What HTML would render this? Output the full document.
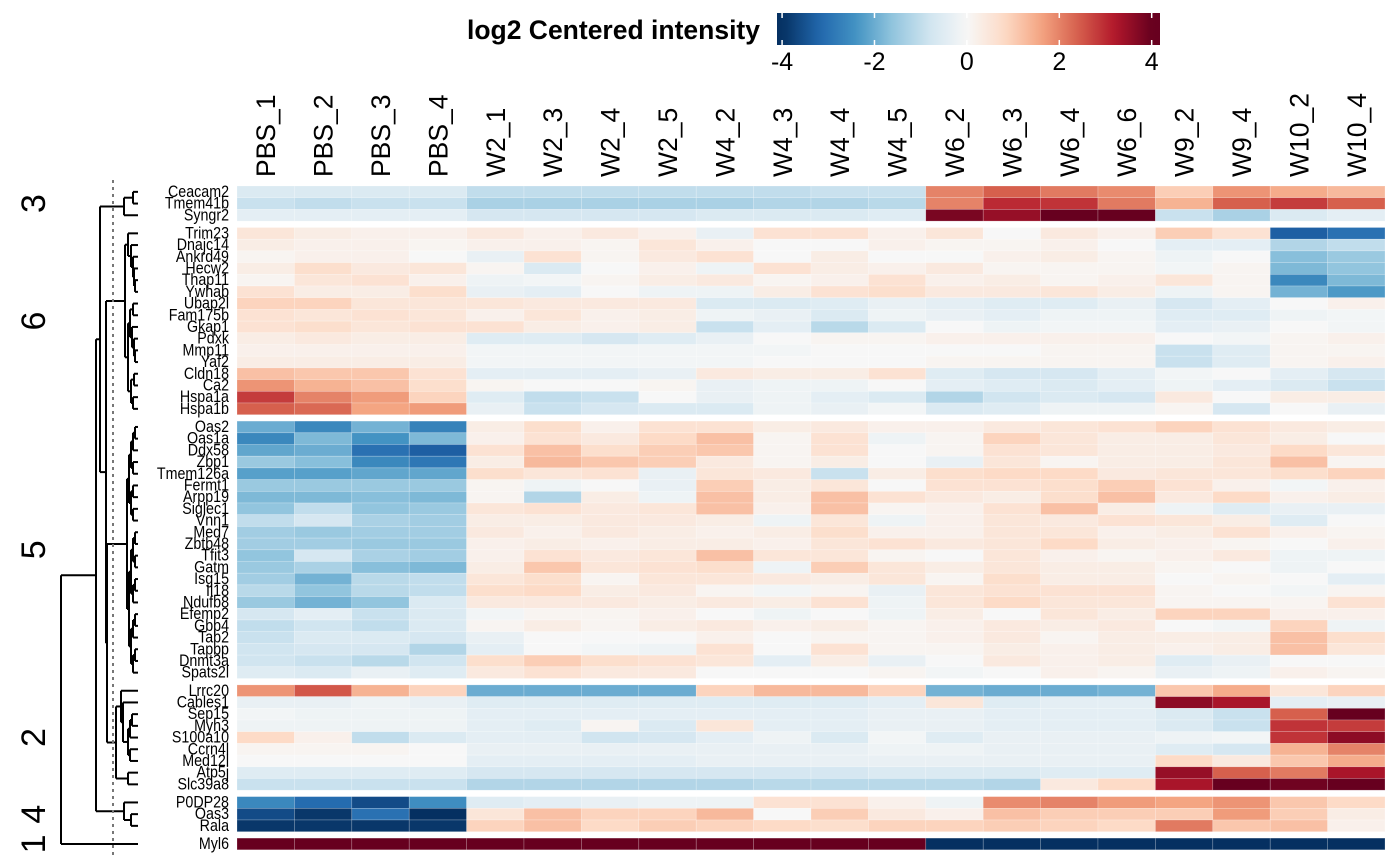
<!DOCTYPE html>
<html><head><meta charset="utf-8"><style>
html,body{margin:0;padding:0;background:#fff;}
svg{display:block;font-family:"Liberation Sans",sans-serif;}
</style></head><body>
<svg id="chart" width="1400" height="865" viewBox="0 0 1400 865">
<defs><linearGradient id="lg" x1="777" x2="1160" y1="0" y2="0" gradientUnits="userSpaceOnUse"></linearGradient></defs>
<g id="legend">
<text x="760" y="39" text-anchor="end" font-size="26.5" font-weight="bold">log2 Centered intensity</text>
<rect x="777" y="13" width="383" height="32" fill="url(#lg)"/>
</g>
<g id="dendro"></g>
<line x1="113" y1="180" x2="113" y2="855" stroke="#777" stroke-width="2" stroke-dasharray="3,4"/>
<g id="cells"></g>
<g id="rowlabels"></g>
<g id="collabels"></g>
<g id="clusterlabels"></g>
</svg>
<script>
const samples=["PBS_1","PBS_2","PBS_3","PBS_4","W2_1","W2_3","W2_4","W2_5","W4_2","W4_3","W4_4","W4_5","W6_2","W6_3","W6_4","W6_6","W9_2","W9_4","W10_2","W10_4"];
const genes=["Ceacam2","Tmem41b","Syngr2","Trim23","Dnajc14","Ankrd49","Hecw2","Thap11","Ywhab","Ubap2l","Fam175b","Gkap1","Pdxk","Mmp11","Yaf2","Cldn18","Ca2","Hspa1a","Hspa1b","Oas2","Oas1a","Ddx58","Zbp1","Tmem126a","Fermt1","Arpp19","Siglec1","Vnn1","Med7","Zbtb48","Tfit3","Gatm","Isg15","Il18","Ndufb8","Efemp2","Gbp4","Tab2","Tapbp","Dnmt3a","Spats2l","Lrrc20","Cables1","Sep15","Myh3","S100a10","Ccrn4l","Med12l","Atp5j","Slc39a8","P0DP28","Oas3","Rala","Myl6"];
const groupSizes=[3,16,22,9,3,1];
const clusterNames=["3","6","5","2","4","1"];
const legendTicks=[-4,-2,0,2,4];
const values=[
[-.6,-.6,-.6,-.6,-1,-1,-1,-1,-1,-1,-.9,-.9,2,2.4,2.1,1.9,1,1.8,1.5,1.3],
[-.9,-1,-.9,-.9,-1.3,-1.3,-1.3,-1.3,-1.3,-1.2,-1.2,-1.1,2,3,2.9,2.1,1.4,2.4,2.8,2.4],
[-.4,-.4,-.4,-.4,-.7,-.7,-.7,-.7,-.6,-.6,-.6,-.5,3.8,3.5,4.2,4,-.9,-1.3,-.6,-.4],
[.5,.3,.2,.2,.4,.2,.4,.2,-.3,.6,.6,.2,.5,0,.4,.2,1,.6,-3.3,-3],
[.3,.2,.2,.1,.2,.2,.1,.5,.2,0,0,.2,.1,.1,.2,0,-.4,-.4,-1.2,-1],
[.1,.2,.2,0,-.3,.6,.1,.4,.6,0,.3,0,0,.2,.3,.1,-.2,0,-1.7,-1.5],
[.3,.7,.4,.5,.1,-.6,0,.2,-.2,.6,.3,.2,.4,.1,.1,.1,-.1,.1,-1.8,-1.6],
[.1,.5,.6,.2,-.2,-.1,.1,.3,.4,.1,.2,.6,.2,.3,.1,.2,.5,.1,-2.6,-1.8],
[.6,.3,.3,.7,-.3,-.4,0,-.2,-.2,.3,.6,.7,.4,.4,.5,.3,-.2,.1,-1.9,-2.3],
[.9,.9,.5,.5,.5,.4,.4,.4,-.6,-.6,-.5,-.3,-.4,-.5,-.5,-.3,-.7,-.4,0,.2],
[.6,.5,.6,.5,.2,.5,.2,.3,-.2,-.3,-.6,-.2,-.3,-.4,-.2,-.2,-.5,-.5,-.2,-.1],
[.6,.7,.5,.6,.6,.3,.2,.3,-.9,-.4,-1.1,-.6,0,-.2,-.1,-.1,-.4,-.3,0,-.1],
[.3,.4,.3,.3,-.5,-.5,-.7,-.5,-.3,0,.1,.1,.2,.2,.2,.2,0,-.1,.1,.2],
[.2,.2,.2,.2,-.1,-.1,-.1,-.1,-.1,-.1,0,0,0,0,.1,.1,-.9,-.5,.1,.1],
[.3,.3,.3,.3,-.1,-.1,-.1,-.1,-.1,0,0,0,.1,.1,.1,.1,-.9,-.5,.1,.2],
[1.2,1.1,1.1,.6,-.4,-.4,-.4,-.3,.4,.3,.3,.6,-.5,-.7,-.7,-.4,-.1,0,-.4,-.7],
[1.8,1.4,1.2,.7,.1,0,0,.1,-.3,-.2,-.2,0,-.4,-.5,-.6,-.4,-.2,-.4,-.6,-.9],
[2.8,2,1.7,.9,-.5,-1,-.9,0,-.3,-.2,-.4,-.6,-1.2,-.8,-.6,-.7,.4,0,.3,.3],
[2.4,2.3,1.6,1.7,-.3,-.9,-.7,-.6,-.6,-.2,-.3,-.1,-.6,-.5,-.2,-.2,.1,-.7,0,-.3],
[-2,-2.6,-1.9,-2.7,.3,.7,.2,.6,.6,.3,.4,.2,.2,.4,.5,.6,.9,.6,.4,.3],
[-2.6,-1.8,-2.4,-1.8,.2,.6,.4,.8,1.2,.1,.6,-.2,.1,.9,.5,.3,.3,.5,.3,0],
[-2.1,-2,-3,-3.3,.6,1.2,.7,1,1.1,.1,.6,0,.1,.6,.5,.3,.3,.4,.8,.5],
[-1.5,-1.7,-2.6,-2.9,.3,1.3,1.1,1,.4,.1,.3,0,-.3,.5,.1,.3,.3,.5,1.2,.1],
[-2.2,-2.2,-2.1,-2.1,.7,.5,.6,-.3,.5,.4,-.9,.3,.7,.8,.8,.4,.5,.5,.7,.9],
[-1.5,-1.5,-1.5,-1.5,.1,-.2,0,-.3,1,.3,.5,0,.6,.6,.7,1,.6,.2,-.1,.2],
[-1.8,-1.8,-1.7,-1.8,.1,-1.2,.3,-.2,1.2,.3,1.2,.6,.4,.3,.7,1.2,.4,.8,.2,.3],
[-1.6,-1,-1.6,-1.5,.5,.6,.4,.5,1.2,.2,1.2,.1,.2,.6,1.2,.3,-.2,-.5,-.3,-.3],
[-1,-.7,-1.3,-1.4,.3,.3,.4,.4,.3,-.2,.5,-.2,.2,.5,.4,.6,.5,.3,-.5,0],
[-1.4,-1.5,-1.4,-1.4,.4,.2,.4,.3,.2,.3,.7,.2,.2,.5,.5,.2,.3,.6,.2,.1],
[-1.4,-1.4,-1.5,-1.5,.2,.3,.2,.3,.3,.2,.5,.6,.4,.5,.8,.3,.2,.1,0,.2],
[-1.6,-.7,-1.3,-1.4,.2,.6,.4,.5,1.2,.5,.5,.1,0,.5,.2,.1,.2,.4,-.2,-.2],
[-1.5,-1.3,-1.7,-1.8,.3,1.1,.5,.6,.7,-.2,1,.5,.3,.5,.3,.3,.1,0,-.2,0],
[-1.4,-1.9,-1.1,-1,.5,.7,.1,.5,.5,.4,.3,.5,.1,.7,.3,.3,0,.1,0,-.4],
[-1.1,-1.6,-1.1,-1,.7,.8,.3,.4,.1,-.1,.1,-.3,.5,.6,.6,.6,.1,0,-.1,.1],
[-1.5,-1.9,-1.6,-.6,.4,.4,.4,.3,.4,.3,.6,-.2,.5,.8,.5,.5,.1,.1,.1,.6],
[-.7,-.4,-.9,-.6,-.1,.1,.1,.2,0,-.2,0,-.2,.3,0,.5,.3,.9,.9,.2,.2],
[-1,-.8,-1,-.6,.1,.3,.1,.3,.4,.2,.3,.1,.2,.4,.3,.4,0,-.1,.9,-.2],
[-.9,-.6,-.6,-.7,-.3,0,0,0,.2,0,.1,.1,.2,.4,.1,.3,.3,.3,1.2,.7],
[-.8,-.7,-.7,-1.2,-.4,0,-.1,-.2,.6,0,.6,.1,.1,.3,.2,.3,.2,.3,1.2,.5],
[-.8,-.9,-1.1,-.8,.7,1,.7,.6,.5,-.4,.3,-.3,0,.4,.2,.3,-.5,-.3,0,0],
[-.5,-.6,-.3,-.5,.4,.6,.4,.4,0,0,0,.1,-.1,0,.2,.1,-.3,-.2,.2,.1],
[1.8,2.5,1.4,.9,-2,-2,-2,-2,.9,1.3,1.3,.9,-1.9,-2,-2,-1.9,1.1,1.5,.5,.9],
[-.3,-.3,-.2,-.3,-.5,-.5,-.5,-.5,-.5,-.5,-.5,-.4,.5,-.5,-.4,-.4,3.6,3.3,-.4,-.3],
[-.1,-.2,-.2,-.2,-.4,-.4,-.4,-.4,-.4,-.4,-.4,-.3,-.3,-.4,-.4,-.4,-.6,-.9,2.4,4.2],
[-.2,-.2,-.2,-.2,-.4,-.5,.1,-.6,.5,-.4,-.4,-.3,-.3,-.4,-.4,-.4,-.6,-.9,2.9,2.8],
[.8,.2,-1,-.6,-.4,-.4,-.8,-.7,-.4,-.2,-.6,-.1,-.5,-.3,-.3,-.3,-.2,-.1,2.9,3.6],
[.1,.1,.1,0,-.3,-.3,-.3,-.3,-.3,-.3,-.3,-.2,-.2,-.3,-.3,-.3,-.5,-.7,1.4,2],
[0,0,0,0,-.4,-.4,-.4,-.4,-.3,-.3,-.3,-.3,-.3,-.3,-.3,-.3,.8,.4,1.1,1.5],
[-.5,-.5,-.5,-.5,-.7,-.7,-.7,-.7,-.7,-.7,-.7,-.6,-.6,-.6,-.5,-.5,3.5,2.4,2.1,3.3],
[-.9,-.9,-.9,-.9,-1.2,-1.2,-1.2,-1.2,-1.2,-1.1,-1.1,-1.1,-1.1,-1.2,.4,.8,3.3,4.3,3.9,4.2],
[-2.6,-3.1,-3.6,-2.5,-.5,-.4,-.3,-.2,-.2,.6,.6,.2,-.2,1.9,2,1.7,1.6,1.8,1.1,.8],
[-3.6,-3.9,-3,-4,.5,1.2,.9,.9,1.3,0,1,.4,.2,1.2,1,1,1,1.7,1,.3],
[-3.9,-3.9,-3.9,-3.9,.9,1.2,.8,1,.9,.8,.7,.9,.9,1,.9,.8,2.1,1.1,1.2,.2],
[4.3,4.3,4.3,4.3,4.3,4.3,4.3,4.3,4.3,4.3,4.3,4,-4.3,-4.3,-4.3,-4.3,-4.3,-4.3,-4.3,-4.3]
];
const NS="http://www.w3.org/2000/svg";
const PAL=["#053061","#2166ac","#4393c3","#92c5de","#d1e5f0","#f7f7f7","#fddbc7","#f4a582","#d6604d","#b2182b","#67001f"];
function hex(h){return [1,3,5].map(i=>parseInt(h.substr(i,2),16));}
function color(v){
  let t=(Math.max(-4,Math.min(4,v))+4)/8*(PAL.length-1);
  let i=Math.min(PAL.length-2,Math.floor(t)),f=t-i;
  let a=hex(PAL[i]),b=hex(PAL[i+1]);
  return "rgb("+a.map((x,k)=>Math.round(x+(b[k]-x)*f)).join(",")+")";
}
const X0=237,X1=1385,Y0=186,RH=11.7,GAP=6.4;
const CW=(X1-X0)/samples.length;
function xPos(j){return X0+j*CW;}
const rowY=[];const groupRange=[];
let y=Y0;
groupSizes.forEach(n=>{let s=y;for(let k=0;k<n;k++){rowY.push(y);y+=RH;}groupRange.push([s,y]);y+=GAP;});
function yCenter(i){return rowY[i]+RH/2;}
function mk(tag,attrs,parent){const e=document.createElementNS(NS,tag);for(const k in attrs)e.setAttribute(k,attrs[k]);parent.appendChild(e);return e;}
const lg=document.getElementById('lg');
const vL=-4.11,vR=4.18;
for(let k=0;k<=40;k++){const v=vL+(vR-vL)*k/40;mk('stop',{offset:(k/40),'stop-color':color(v)},lg);}
const legend=document.getElementById('legend');
function legX(v){return 777+(v-vL)/(vR-vL)*383;}
legendTicks.forEach(t=>{
  const x=legX(t);
  const a=mk('line',{x1:x,x2:x,y1:13,y2:18,stroke:'#fff','stroke-width':1.5},legend);
  
  
  const b=mk('line',{x1:x,x2:x,y1:40,y2:45,stroke:'#fff','stroke-width':1.5},legend);
  
  
  const tx=mk('text',{x:x,y:70,'text-anchor':'middle','font-size':25},legend);
  tx.textContent=(t<0?'-':'')+Math.abs(t);
  
  
});
const cells=document.getElementById('cells');
values.forEach((row,i)=>row.forEach((v,j)=>{
  const r=mk('rect',{x:xPos(j),y:rowY[i],width:CW,height:RH,fill:color(v),stroke:'rgba(255,255,255,0.35)','stroke-width':0.6},cells);
  
  
}));
const rl=document.getElementById('rowlabels');
genes.forEach((g,i)=>{
  const by=yCenter(i)+5;
  const t=mk('text',{x:0,y:0,'text-anchor':'end','font-size':15.5,transform:'translate(229,'+by+') scale(0.92,1.05)'},rl);
  t.textContent=g;
  
  
});
const cl=document.getElementById('collabels');
samples.forEach((s,j)=>{
  const cx=xPos(j)+CW/2+9.5;
  const t=mk('text',{x:0,y:0,'font-size':26.5,transform:'translate('+cx+',177) rotate(-90)'},cl);
  t.textContent=s;
  
  
});
const kl=document.getElementById('clusterlabels');
clusterNames.forEach((c,k)=>{
  const yc=(groupRange[k][0]+groupRange[k][1])/2;
  const t=mk('text',{x:0,y:0,'font-size':34,'text-anchor':'middle',transform:'translate(45,'+yc+') rotate(-90)'},kl);
  t.textContent=c;
  
  
});
function bal(a,b,x){if(a===b)return a;const m=Math.floor((a+b)/2);return {x:x,c:[bal(a,m,x+2),bal(m+1,b,x+2)]};}
const c3={x:124,c:[{x:133,c:[0,1]},2]};
const c6={x:125,c:[{x:128,c:[3,{x:131,c:[4,{x:133,c:[5,{x:134,c:[6,{x:135,c:[7,8]}]}]}]}]},{x:128,c:[{x:130,c:[{x:133,c:[9,10]},{x:132,c:[11,{x:134,c:[12,{x:135,c:[13,14]}]}]}]},{x:131,c:[{x:134,c:[15,16]},{x:133,c:[17,18]}]}]}]};
const c5={x:127,c:[bal(19,27,129),bal(28,40,129)]};
const c2={x:116,c:[{x:121,c:[41,{x:123,c:[42,bal(43,47,128)]}]},{x:128,c:[48,49]}]};
const c4={x:124,c:[50,{x:131,c:[51,52]}]};
const tree={x:61,c:[{x:96,c:[{x:100,c:[c3,{x:106,c:[c6,{x:107,c:[c5,c2]}]}]},c4]},53]};
const dg=document.getElementById('dendro');
function draw(n){
  if(typeof n==='number')return {y:yCenter(n),x:138};
  const ch=n.c.map(draw);
  const ys=ch.map(c=>c.y);
  ch.forEach(c=>{const l=mk('line',{x1:n.x,x2:c.x,y1:c.y,y2:c.y,stroke:'#000','stroke-width':2},dg);
    
    });
  const v=mk('line',{x1:n.x,x2:n.x,y1:Math.min(...ys),y2:Math.max(...ys),stroke:'#000','stroke-width':2},dg);
  
  
  return {x:n.x,y:(Math.min(...ys)+Math.max(...ys))/2};
}
draw(tree);
</script>
</body></html>
